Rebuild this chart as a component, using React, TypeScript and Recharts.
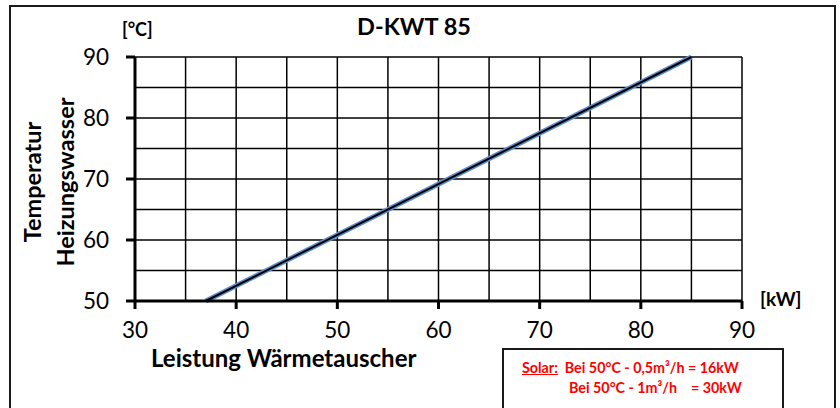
import React from "react";
import { ComposedChart, Line, XAxis, YAxis, CartesianGrid } from "recharts";

const powerKW = [37, 85];
const tempC = [50, 90];
const xTicks = [30, 35, 40, 45, 50, 55, 60, 65, 70, 75, 80, 85, 90];
const yTicks = [50, 55, 60, 65, 70, 75, 80, 85, 90];
const xLabeled = [30, 40, 50, 60, 70, 80, 90];
const yLabeled = [50, 60, 70, 80, 90];

const data = powerKW.map((p, i) => ({ p, t: tempC[i] }));

const FONT = "Lato, 'Open Sans', sans-serif";

const XTick = (props: any) => {
  const { x, y, payload } = props;
  if (!xLabeled.includes(payload.value)) return null;
  return (
    <g>
      <line x1={x} x2={x} y1={y} y2={y + 8} stroke="#000" strokeWidth={3} />
      <text x={x} y={y + 37} textAnchor="middle" fontSize={22.5} fontFamily={FONT} fill="#000">
        {payload.value}
      </text>
    </g>
  );
};

const YTick = (props: any) => {
  const { x, y, payload } = props;
  if (!yLabeled.includes(payload.value)) return null;
  return (
    <g>
      <line x1={x} x2={x - 9} y1={y} y2={y} stroke="#000" strokeWidth={3} />
      <text x={x - 26} y={y + 8} textAnchor="end" fontSize={22.5} fontFamily={FONT} fill="#000">
        {payload.value}
      </text>
    </g>
  );
};

const abs = (s: React.CSSProperties): React.CSSProperties => ({ position: "absolute", fontFamily: FONT, ...s });

const red: React.CSSProperties = { fontSize: 14.3, fontWeight: 700, color: "#f00", whiteSpace: "pre", lineHeight: "20px" };

export default function App() {
  return (
    <div style={{ position: "fixed", left: 0, top: 0, width: 840, height: 408, background: "#fff", overflow: "hidden" }}>
      <div style={abs({ left: 9, top: 5, width: 823, height: 420, border: "2px solid #1a1a1a" })} />
      <div style={{ position: "absolute", left: 0, top: 0 }}>
        <ComposedChart width={840} height={408} data={data} margin={{ top: 57, right: 98, bottom: 77, left: 75 }}>
          <CartesianGrid stroke="#000" strokeWidth={1.5} />
          <XAxis
            dataKey="p"
            type="number"
            domain={[30, 90]}
            ticks={xTicks}
            interval={0}
            height={30}
            axisLine={{ stroke: "#000", strokeWidth: 3 }}
            tickLine={false}
            tickSize={0}
            tickMargin={0}
            tick={<XTick />}
          />
          <YAxis
            type="number"
            domain={[50, 90]}
            ticks={yTicks}
            interval={0}
            width={60}
            axisLine={{ stroke: "#000", strokeWidth: 3 }}
            tickLine={false}
            tickSize={0}
            tickMargin={0}
            tick={<YTick />}
          />
          <Line dataKey="t" stroke="#5b8fd0" strokeWidth={5} dot={false} isAnimationActive={false} />
          <Line dataKey="t" stroke="#000" strokeWidth={2} dot={false} isAnimationActive={false} />
        </ComposedChart>
      </div>
      <div style={abs({ left: 314, top: 12, width: 200, textAlign: "center", fontSize: 23.5, fontWeight: 700 })}>D-KWT 85</div>
      <div style={abs({ left: 122, top: 18, fontSize: 18, fontWeight: 700 })}>[°C]</div>
      <div style={abs({ left: 760, top: 287, fontSize: 19, fontWeight: 700 })}>[kW]</div>
      <div style={abs({ left: 151, top: 343, fontSize: 24, fontWeight: 700 })}>Leistung Wärmetauscher</div>
      <div
        style={abs({
          left: 49 - 110,
          top: 182 - 33,
          width: 220,
          height: 66,
          transform: "rotate(-90deg)",
          textAlign: "center",
          fontSize: 23.5,
          fontWeight: 700,
          lineHeight: "33px",
        })}
      >
        Temperatur
        <br />
        Heizungswasser
      </div>
      <div style={abs({ left: 502, top: 348, width: 278, height: 80, border: "2px solid #1a1a1a" })} />
      <div style={abs({ left: 522, top: 358, ...red })}>
        <span style={{ textDecoration: "underline" }}>Solar:</span>
        {"  Bei 50°C - 0,5m³/h = 16kW"}
      </div>
      <div style={abs({ left: 569, top: 378, ...red })}>Bei 50°C - 1m³/h</div>
      <div style={abs({ left: 691, top: 378, ...red })}>= 30kW</div>
    </div>
  );
}
